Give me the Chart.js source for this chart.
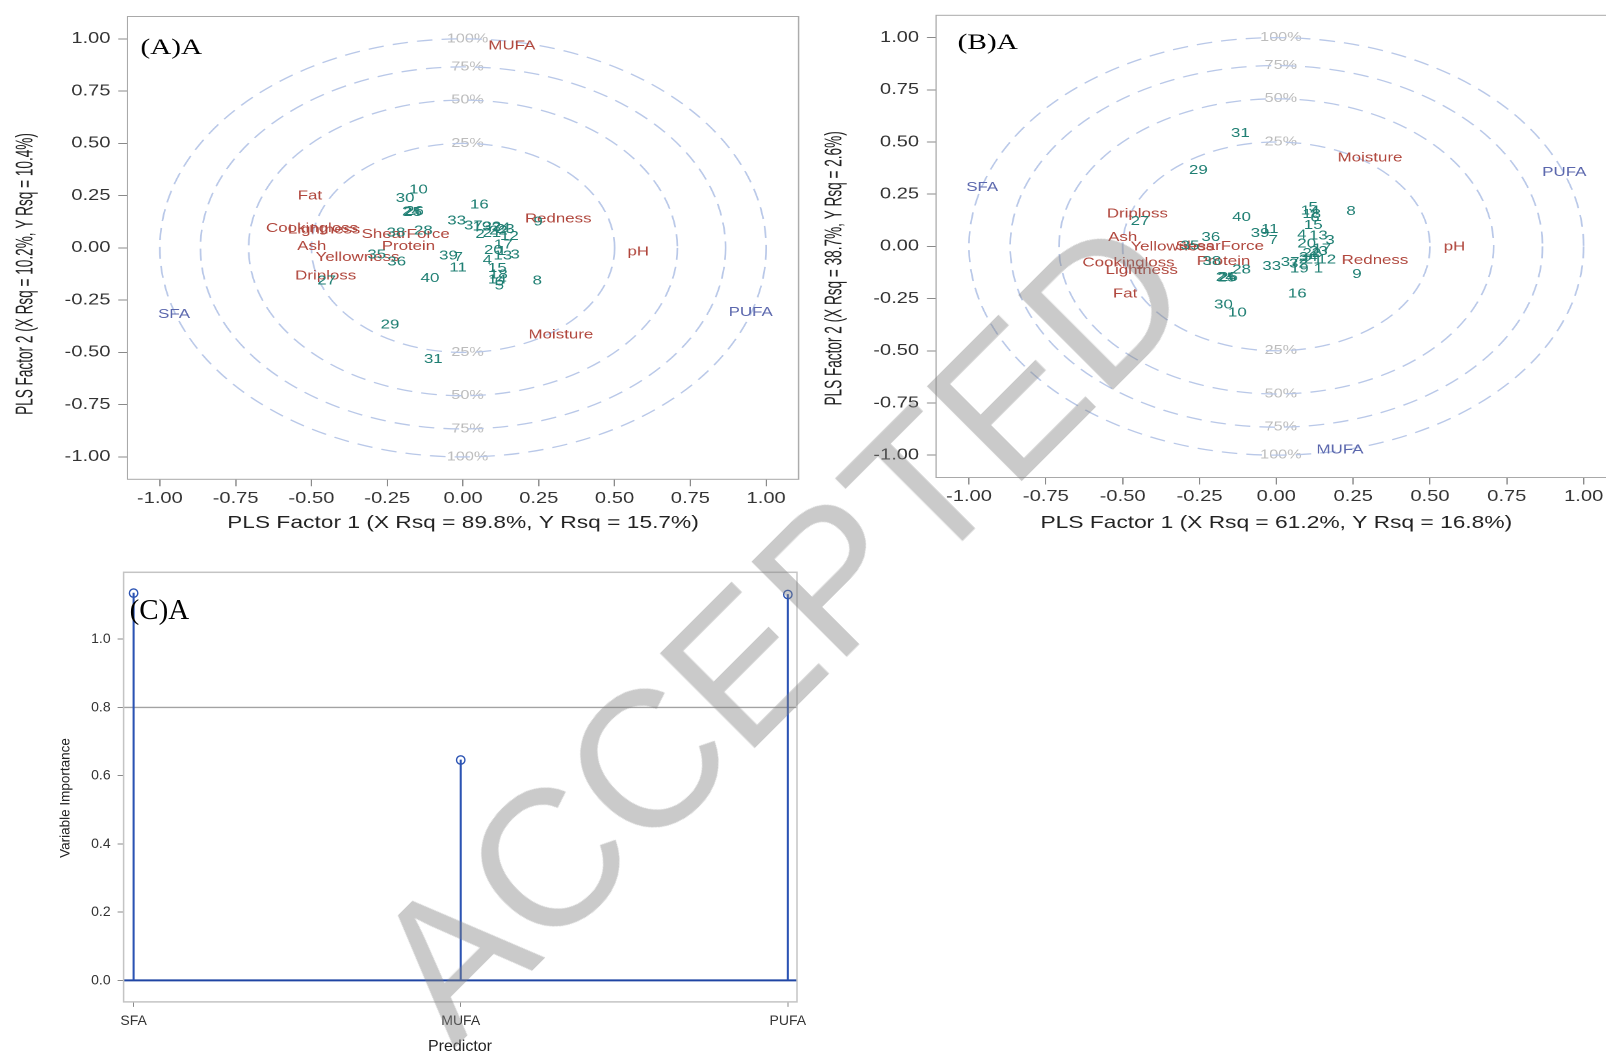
<!DOCTYPE html>
<html><head><meta charset="utf-8">
<script src="https://cdn.jsdelivr.net/npm/chart.js@4.4.1/dist/chart.umd.min.js"></script>
<style>
html,body{margin:0;padding:0;background:#fff;overflow:hidden;width:1606px;height:1057px;}
.wrap{position:absolute;transform-origin:0 0;}
#wm{position:absolute;left:780px;top:628px;transform:translate(-50%,-50%) rotate(-45deg);font-family:'Liberation Sans',Arial,sans-serif;font-size:194px;line-height:1;color:rgba(128,128,128,0.42);white-space:nowrap;pointer-events:none;}
</style></head><body>
<div class="wrap" style="left:0;top:0;width:631px;height:545px;transform:scaleX(1.3)"><canvas id="ca" width="631" height="545"></canvas></div>
<div class="wrap" style="left:820px;top:0;width:631px;height:545px;transform:scaleX(1.3)"><canvas id="cb" width="631" height="545"></canvas></div>
<div class="wrap" style="left:0;top:545px;width:830px;height:512px"><canvas id="cc" width="830" height="512"></canvas></div>
<div id="wm">ACCEPTED</div>
<script>
// ---------- data ----------
const axisTicks = [-1, -0.75, -0.5, -0.25, 0, 0.25, 0.5, 0.75, 1];
const pctLabels = ['25%', '50%', '75%', '100%'];
const pctValues = [0.25, 0.5, 0.75, 1.0];

const obsIds = ['1','2','3','4','5','6','7','8','9','10','11','12','13','14','15','16','17','18','19','20',
  '21','22','23','24','25','26','27','28','29','30','31','32','33','34','35','36','37','38','39','40'];

const A_obsX = [0.128,0.056,0.172,0.080,0.120,0.120,-0.015,0.245,0.248,-0.147,-0.016,0.153,0.131,0.113,0.113,0.054,0.133,0.117,0.062,0.100,
  0.095,0.117,0.139,-0.170,-0.166,-0.160,-0.450,-0.131,-0.241,-0.191,-0.098,0.095,-0.021,0.125,-0.285,-0.219,0.034,-0.221,-0.048,-0.109];
const A_obsY = [-0.018,0.065,-0.034,-0.061,-0.182,-0.162,-0.045,-0.158,0.125,0.277,-0.095,0.054,-0.039,-0.154,-0.098,0.205,0.014,-0.130,0.101,-0.013,
  0.070,0.082,0.089,0.173,0.170,0.175,-0.157,0.082,-0.369,0.237,-0.533,0.101,0.130,0.095,-0.034,-0.066,0.105,0.072,-0.039,-0.146];

const A_respNames = ['Fat','Cookingloss','Lightness','ShearForce','Protein','Ash','Yellowness','Driploss','Redness','pH','Moisture','MUFA'];
const A_respX = [-0.505,-0.498,-0.458,-0.189,-0.180,-0.499,-0.348,-0.453,0.314,0.578,0.323,0.161];
const A_respY = [0.248,0.094,0.086,0.065,0.006,0.006,-0.045,-0.134,0.138,-0.020,-0.417,0.967];
const A_predNames = ['SFA','PUFA'];
const A_predX = [-0.953,0.949];
const A_predY = [-0.319,-0.309];

const B_obsX = [0.137,0.088,0.175,0.083,0.120,0.126,-0.010,0.243,0.262,-0.127,-0.021,0.164,0.137,0.110,0.120,0.068,0.148,0.115,0.075,0.099,
  0.120,0.115,0.137,-0.166,-0.161,-0.156,-0.443,-0.113,-0.254,-0.172,-0.117,0.072,-0.015,0.104,-0.281,-0.213,0.045,-0.210,-0.053,-0.113];
const B_obsY = [-0.107,-0.065,0.029,0.054,0.186,0.136,0.029,0.167,-0.134,-0.319,0.081,-0.065,0.050,0.170,0.101,-0.228,-0.013,0.152,-0.107,0.011,
  -0.065,-0.033,-0.024,-0.149,-0.152,-0.149,0.120,-0.112,0.363,-0.280,0.542,-0.084,-0.095,-0.052,0.003,0.042,-0.076,-0.073,0.061,0.139];

const B_respNames = ['Fat','Cookingloss','Lightness','ShearForce','Protein','Ash','Yellowness','Driploss','Redness','pH','Moisture'];
const B_respX = [-0.492,-0.481,-0.438,-0.184,-0.172,-0.500,-0.338,-0.452,0.321,0.580,0.305];
const B_respY = [-0.228,-0.079,-0.115,0.001,-0.073,0.042,-0.002,0.155,-0.068,-0.003,0.423];
const B_predNames = ['SFA','PUFA','MUFA'];
const B_predX = [-0.957,0.937,0.207];
const B_predY = [0.282,0.354,-0.976];

const vipNames = ['SFA','MUFA','PUFA'];
const vipValues = [1.135, 0.646, 1.131];
const vipTicks = [0, 0.2, 0.4, 0.6, 0.8, 1.0];
const vipThreshold = 0.8;

// ---------- styles ----------
const FONT = "'Liberation Sans', Arial, Helvetica, sans-serif";
const SERIF = "'Liberation Serif', 'Times New Roman', serif";
const RED = '#b0463c', TEAL = '#1f7f73', BLUE = '#5b67ad';
const RANGE = 1.107;

function pts(xs, ys) { return xs.map((x, i) => ({ x: x, y: ys[i] })); }

function loadingChart(id, p) {
  const groups = [
    { names: p.respNames, x: p.respX, y: p.respY, color: RED },
    { names: p.predNames, x: p.predX, y: p.predY, color: p.predColors },
    { names: obsIds, x: p.obsX, y: p.obsY, color: TEAL }
  ];
  const datasets = groups.map(g => ({
    data: pts(g.x, g.y), names: g.names, labelColor: g.color,
    pointRadius: 0, pointHoverRadius: 0, showLine: false
  }));

  const circlePlugin = {
    id: 'circles',
    beforeDatasetsDraw(chart) {
      const { ctx, scales: { x, y } } = chart;
      const cx = x.getPixelForValue(0), cy = y.getPixelForValue(0);
      ctx.save();
      ctx.font = '12.5px ' + FONT;
      ctx.fillStyle = '#bcbcbc';
      ctx.textAlign = 'center';
      ctx.textBaseline = 'middle';
      pctValues.forEach((pv, i) => {
        const r = Math.sqrt(pv);
        ctx.fillText(pctLabels[i], cx + 3.5, y.getPixelForValue(r));
        ctx.fillText(pctLabels[i], cx + 3.5, y.getPixelForValue(-r));
      });
      ctx.setLineDash([12, 7]);
      ctx.strokeStyle = '#b9c8e8';
      ctx.lineWidth = 1.3;
      pctValues.forEach((pv) => {
        const r = Math.sqrt(pv);
        const rx = x.getPixelForValue(r) - cx, ry = cy - y.getPixelForValue(r);
        ctx.beginPath();
        ctx.ellipse(cx, cy, rx, ry, 0, 0, Math.PI * 2);
        ctx.stroke();
      });
      ctx.restore();
    },
    afterDatasetsDraw(chart) {
      const ctx = chart.ctx;
      ctx.save();
      ctx.font = '13px ' + FONT;
      ctx.textAlign = 'center';
      ctx.textBaseline = 'middle';
      chart.data.datasets.forEach((ds, di) => {
        const meta = chart.getDatasetMeta(di);
        meta.data.forEach((el, i) => {
          ctx.fillStyle = ds.labelColor;
          ctx.fillText(ds.names[i], el.x, el.y);
        });
      });
      ctx.restore();
    },
    afterDraw(chart) {
      const { ctx, chartArea: a } = chart;
      ctx.save();
      ctx.strokeStyle = '#a9a9a9';
      ctx.lineWidth = 1;
      ctx.strokeRect(a.left, a.top, a.right - a.left, a.bottom - a.top);
      ctx.fillStyle = '#222';
      ctx.textAlign = 'center';
      ctx.textBaseline = 'middle';
      ctx.font = '17.5px ' + FONT;
      ctx.fillText(p.xTitle, (a.left + a.right) / 2, p.xTitleY);
      ctx.save();
      ctx.translate(p.yTitleX, p.yTitleY);
      ctx.rotate(-Math.PI / 2);
      ctx.scale(1, 1.35);
      ctx.font = '13.6px ' + FONT;
      ctx.fillText(p.yTitle, 0, 0);
      ctx.restore();
      ctx.fillStyle = '#000';
      ctx.textAlign = 'left';
      ctx.font = '22.5px ' + SERIF;
      ctx.fillText(p.panel, p.panelX, p.panelY);
      ctx.restore();
    }
  };

  const tickOpts = {
    callback: v => Number(v).toFixed(2),
    font: { size: 15.5, family: FONT }, color: '#333',
    autoSkip: false, maxRotation: 0
  };
  const gridOpts = { drawOnChartArea: false, drawTicks: true, tickLength: 7, color: '#8a8a8a', offset: false };

  return new Chart(document.getElementById(id), {
    type: 'scatter',
    data: { datasets },
    options: {
      responsive: false, animation: false, devicePixelRatio: 2, events: [],
      layout: { padding: { left: 0, right: p.padRight, top: p.padTop, bottom: 0 } },
      plugins: { legend: { display: false }, tooltip: { enabled: false } },
      scales: {
        x: {
          type: 'linear', min: -RANGE, max: RANGE,
          afterBuildTicks: s => { s.ticks = axisTicks.map(v => ({ value: v })); },
          afterFit: s => { s.height = p.xAxisH; },
          ticks: Object.assign({}, tickOpts, { padding: 3 }),
          grid: gridOpts, border: { display: false }
        },
        y: {
          type: 'linear', min: -RANGE, max: RANGE,
          afterBuildTicks: s => { s.ticks = axisTicks.map(v => ({ value: v })); },
          afterFit: s => { s.width = p.yAxisW; },
          ticks: Object.assign({}, tickOpts, { padding: 6 }),
          grid: gridOpts, border: { display: false }
        }
      }
    },
    plugins: [circlePlugin]
  });
}

Chart.defaults.font.family = FONT;

loadingChart('ca', {
  obsX: A_obsX, obsY: A_obsY,
  respNames: A_respNames, respX: A_respX, respY: A_respY,
  predNames: A_predNames, predX: A_predX, predY: A_predY, predColors: BLUE,
  xTitle: 'PLS Factor 1 (X Rsq = 89.8%, Y Rsq = 15.7%)',
  yTitle: 'PLS Factor 2 (X Rsq = 10.2%, Y Rsq = 10.4%)',
  xTitleY: 523, yTitleX: 19.7, yTitleY: 274,
  panel: '(A)A', panelX: 108, panelY: 48,
  padRight: 16.7, padTop: 16.5, xAxisH: 65.7, yAxisW: 98.0
});

loadingChart('cb', {
  obsX: B_obsX, obsY: B_obsY,
  respNames: B_respNames, respX: B_respX, respY: B_respY,
  predNames: B_predNames, predX: B_predX, predY: B_predY, predColors: BLUE,
  xTitle: 'PLS Factor 1 (X Rsq = 61.2%, Y Rsq = 16.8%)',
  yTitle: 'PLS Factor 2 (X Rsq = 38.7%, Y Rsq = 2.6%)',
  xTitleY: 523, yTitleX: 11.4, yTitleY: 268.4,
  panel: '(B)A', panelX: 105.9, panelY: 43,
  padRight: 18.3, padTop: 7.0, xAxisH: 67.5, yAxisW: 89.3
});

// ---------- panel C ----------
const STEM = '#2b53b3';
const vipPts = vipNames.map((n, i) => ({ x: i, y: vipValues[i] }));
const cPlugin = {
  id: 'cdeco',
  beforeDatasetsDraw(chart) {
    const { ctx, chartArea: a, scales: { y } } = chart;
    ctx.save();
    ctx.strokeStyle = '#a3a3a3'; ctx.lineWidth = 1.3;
    const yt = y.getPixelForValue(vipThreshold);
    ctx.beginPath(); ctx.moveTo(a.left, yt); ctx.lineTo(a.right, yt); ctx.stroke();
    ctx.strokeStyle = '#1f45a3'; ctx.lineWidth = 2;
    const y0 = y.getPixelForValue(0);
    ctx.beginPath(); ctx.moveTo(a.left, y0); ctx.lineTo(a.right, y0); ctx.stroke();
    ctx.restore();
  },
  afterDraw(chart) {
    const { ctx, chartArea: a } = chart;
    ctx.save();
    ctx.strokeStyle = '#c4c4c4'; ctx.lineWidth = 1.5;
    ctx.strokeRect(a.left, a.top, a.right - a.left, a.bottom - a.top);
    ctx.fillStyle = '#222'; ctx.textAlign = 'center'; ctx.textBaseline = 'middle';
    ctx.font = '16px ' + FONT;
    ctx.fillText('Predictor', 460, 501.5);
    ctx.save();
    ctx.translate(66, 253); ctx.rotate(-Math.PI / 2);
    ctx.font = '13.5px ' + FONT;
    ctx.fillText('Variable Importance', 0, 0);
    ctx.restore();
    ctx.fillStyle = '#000'; ctx.textAlign = 'left';
    ctx.font = '29px ' + SERIF;
    ctx.fillText('(C)A', 129.6, 66.6);
    ctx.restore();
  }
};
new Chart(document.getElementById('cc'), {
  type: 'scatter',
  data: {
    datasets: [
      { type: 'bar', data: vipPts, backgroundColor: STEM, barThickness: 1.4, borderWidth: 0 },
      { type: 'scatter', data: vipPts, pointRadius: 4.2, pointBorderWidth: 1.4,
        pointBackgroundColor: 'rgba(255,255,255,0)', pointBorderColor: STEM }
    ]
  },
  options: {
    responsive: false, animation: false, devicePixelRatio: 2, events: [],
    layout: { padding: { left: 0, right: 33, top: 27.3, bottom: 0 } },
    plugins: { legend: { display: false }, tooltip: { enabled: false } },
    scales: {
      x: {
        type: 'linear', min: -0.0306, max: 2.028, offset: false,
        afterBuildTicks: s => { s.ticks = vipNames.map((n, i) => ({ value: i })); },
        afterFit: s => { s.height = 55.1; },
        ticks: { callback: v => vipNames[Math.round(v)], font: { size: 14, family: FONT }, color: '#333', padding: 6, autoSkip: false, maxRotation: 0 },
        grid: { drawOnChartArea: false, drawTicks: true, tickLength: 5, color: '#8a8a8a', offset: false }, border: { display: false }
      },
      y: {
        type: 'linear', min: -0.063, max: 1.196,
        afterBuildTicks: s => { s.ticks = vipTicks.map(v => ({ value: v })); },
        afterFit: s => { s.width = 123.6; },
        ticks: { callback: v => Number(v).toFixed(1), font: { size: 14, family: FONT }, color: '#333', padding: 7, autoSkip: false },
        grid: { drawOnChartArea: false, drawTicks: true, tickLength: 6, color: '#8a8a8a', offset: false }, border: { display: false }
      }
    }
  },
  plugins: [cPlugin]
});
</script>
</body></html>
